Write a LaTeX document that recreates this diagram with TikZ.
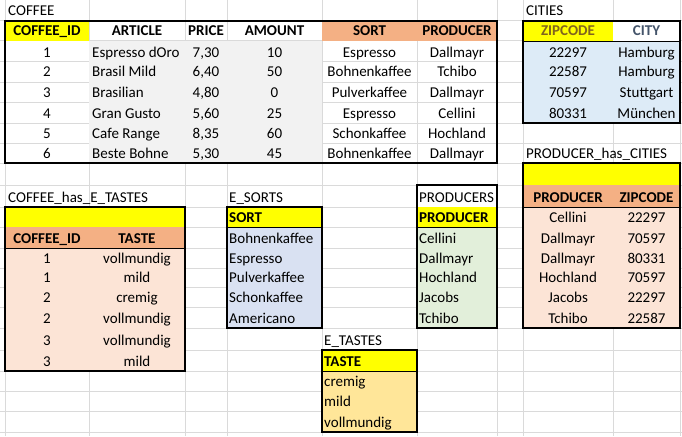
\documentclass[tikz,border=0pt]{standalone}
\usepackage{fontspec}
\setmainfont{Carlito}
\definecolor{grid_gray}{RGB}{218,218,218}
\definecolor{key_yellow}{RGB}{255,255,0}
\definecolor{head_salmon}{RGB}{244,176,132}
\definecolor{body_peach}{RGB}{252,228,214}
\definecolor{body_gray}{RGB}{242,242,242}
\definecolor{body_blue}{RGB}{221,235,247}
\definecolor{body_slate}{RGB}{217,225,242}
\definecolor{body_green}{RGB}{226,239,218}
\definecolor{body_gold}{RGB}{255,230,153}
\definecolor{zip_brown}{RGB}{128,100,30}
\definecolor{city_slate}{RGB}{68,84,106}

\begin{document}
\begin{tikzpicture}[x=1pt,y=-1pt]
    \tikzstyle{cell}=[inner sep=0pt, anchor=base, font=\fontsize{15}{17}\selectfont, text=black]
    \tikzstyle{lcell}=[cell, anchor=base west]
    \tikzstyle{hcell}=[cell, font=\fontsize{15}{17}\selectfont\bfseries]
    \tikzstyle{lhcell}=[hcell, anchor=base west]
    \tikzstyle{frame}=[draw=black, line width=2.6pt]
    \tikzstyle{rule}=[draw=black, line width=0.9pt]

    \useasboundingbox (0,0) rectangle (682,436);
    \fill[white] (0,0) rectangle (682,436);

    % sheet grid
    \foreach \gx in {5,89,185,227,322,417,497,523,613,680}
      \draw[grid_gray, line width=1pt] (\gx,0) -- (\gx,436);
    \foreach \gy in {21,41,62,82,102,123,143,163,185,207,227,248,268,287,307,328,350,371,391,411,432}
      \draw[grid_gray, line width=1pt] (0,\gy) -- (682,\gy);

    % cell fills
    \fill[key_yellow]  (5,21) rectangle (89,41);
    \fill[head_salmon] (322,21) rectangle (497,41);
    \fill[body_gray]   (89,41) rectangle (322,163);
    \fill[key_yellow]  (523,21) rectangle (613,41);
    \fill[white]       (613,21) rectangle (680,41);
    \fill[body_blue]   (523,41) rectangle (680,123);
    \fill[key_yellow]  (523,163) rectangle (680,185);
    \fill[head_salmon] (523,185) rectangle (680,207);
    \fill[body_peach]  (523,207) rectangle (680,328);
    \fill[key_yellow]  (5,207) rectangle (185,227);
    \fill[head_salmon] (5,227) rectangle (185,248);
    \fill[body_peach]  (5,248) rectangle (185,371);
    \fill[key_yellow]  (227,207) rectangle (322,227);
    \fill[body_slate]  (227,227) rectangle (322,328);
    \fill[white]       (417,185) rectangle (497,207);
    \fill[key_yellow]  (417,207) rectangle (497,227);
    \fill[body_green]  (417,227) rectangle (497,328);
    \fill[key_yellow]  (322,350) rectangle (417,371);
    \fill[body_gold]   (322,371) rectangle (417,432);

    % titles
    \node[lcell] (t_coffee)   at (8,16)    {COFFEE};
    \node[lcell] (t_cities)   at (526,16)  {CITIES};
    \node[lcell] (t_prodcity) at (526,158) {PRODUCER\_has\_CITIES};
    \node[lcell] (t_taste)    at (8,202)   {COFFEE\_has\_E\_TASTES};
    \node[lcell] (t_sorts)    at (229,202) {E\_SORTS};
    \node[lcell] (t_tastes)   at (324,345) {E\_TASTES};

    % COFFEE
    \node[hcell] (c_id)    at (47,36)    {COFFEE\_ID};
    \node[hcell] (c_art)   at (137,36)   {ARTICLE};
    \node[hcell] (c_price) at (206,36)   {PRICE};
    \node[hcell] (c_amt)   at (274.5,36) {AMOUNT};
    \node[hcell] (c_sort)  at (369.5,36) {SORT};
    \node[hcell] (c_prod)  at (457,36)   {PRODUCER};
    \foreach \yb/\art/\price/\amt/\sort/\prod [count=\i] in
      {57/Espresso dOro/{7,30}/10/Espresso/Dallmayr,
       77/Brasil Mild/{6,40}/50/Bohnenkaffee/Tchibo,
       97/Brasilian/{4,80}/0/Pulverkaffee/Dallmayr,
       118/Gran Gusto/{5,60}/25/Espresso/Cellini,
       138/Cafe Range/{8,35}/60/Schonkaffee/Hochland,
       158/Beste Bohne/{5,30}/45/Bohnenkaffee/Dallmayr}
    {
      \node[cell]  (c_id\i)    at (47,\yb)    {\i};
      \node[lcell] (c_art\i)   at (92,\yb)    {\art};
      \node[cell]  (c_price\i) at (206,\yb)   {\price};
      \node[cell]  (c_amt\i)   at (274.5,\yb) {\amt};
      \node[cell]  (c_sort\i)  at (369.5,\yb) {\sort};
      \node[cell]  (c_prod\i)  at (457,\yb)   {\prod};
    }

    % CITIES
    \node[hcell, text=zip_brown]  (z_zip)  at (568,36)   {ZIPCODE};
    \node[hcell, text=city_slate] (z_city) at (646.5,36) {CITY};
    \foreach \yb/\zip/\city [count=\i] in
      {57/22297/Hamburg, 77/22587/Hamburg, 97/70597/Stuttgart, 118/80331/München}
    {
      \node[cell] (z_zip\i)  at (568,\yb)   {\zip};
      \node[cell] (z_city\i) at (646.5,\yb) {\city};
    }

    % PRODUCER_has_CITIES
    \node[hcell] (pc_prod) at (568,202)   {PRODUCER};
    \node[hcell] (pc_zip)  at (646.5,202) {ZIPCODE};
    \foreach \yb/\prod/\zip [count=\i] in
      {222/Cellini/22297, 243/Dallmayr/70597, 263/Dallmayr/80331,
       282/Hochland/70597, 302/Jacobs/22297, 323/Tchibo/22587}
    {
      \node[cell] (pc_prod\i) at (568,\yb)   {\prod};
      \node[cell] (pc_zip\i)  at (646.5,\yb) {\zip};
    }

    % COFFEE_has_E_TASTES
    \node[hcell] (ct_id)    at (47,243)  {COFFEE\_ID};
    \node[hcell] (ct_taste) at (137,243) {TASTE};
    \foreach \yb/\id/\taste [count=\i] in
      {263/1/vollmundig, 282/1/mild, 302/2/cremig,
       323/2/vollmundig, 345/3/vollmundig, 366/3/mild}
    {
      \node[cell] (ct_id\i)    at (47,\yb)  {\id};
      \node[cell] (ct_taste\i) at (137,\yb) {\taste};
    }

    % E_SORTS and PRODUCERS
    \node[lhcell] (s_sort) at (229,222) {SORT};
    \node[lcell]  (p_title) at (419,202) {PRODUCERS};
    \node[lhcell] (p_prod)  at (419,222) {PRODUCER};
    \foreach \yb/\sort/\prod [count=\i] in
      {243/Bohnenkaffee/Cellini, 263/Espresso/Dallmayr, 282/Pulverkaffee/Hochland,
       302/Schonkaffee/Jacobs, 323/Americano/Tchibo}
    {
      \node[lcell] (s_sort\i) at (229,\yb) {\sort};
      \node[lcell] (p_prod\i) at (419,\yb) {\prod};
    }

    % E_TASTES
    \node[lhcell] (e_taste) at (324,366) {TASTE};
    \foreach \yb/\taste [count=\i] in {386/cremig, 406/mild, 427/vollmundig}
      \node[lcell] (e_taste\i) at (324,\yb) {\taste};

    % header rules and table frames
    \draw[rule] (523,41) -- (680,41);
    \draw[rule] (523,207) -- (680,207);
    \draw[rule] (5,248) -- (185,248);
    \draw[rule] (227,227) -- (322,227);
    \draw[rule] (417,227) -- (497,227);
    \draw[rule] (322,371) -- (417,371);
    \draw[frame] (5,21) rectangle (497,163);
    \draw[frame] (523,21) rectangle (680,123);
    \draw[frame] (523,163) rectangle (680,328);
    \draw[frame] (5,207) rectangle (185,371);
    \draw[frame] (227,207) rectangle (322,328);
    \draw[frame] (417,185) rectangle (497,328);
    \draw[frame] (322,350) rectangle (417,432);
\end{tikzpicture}
\end{document}
